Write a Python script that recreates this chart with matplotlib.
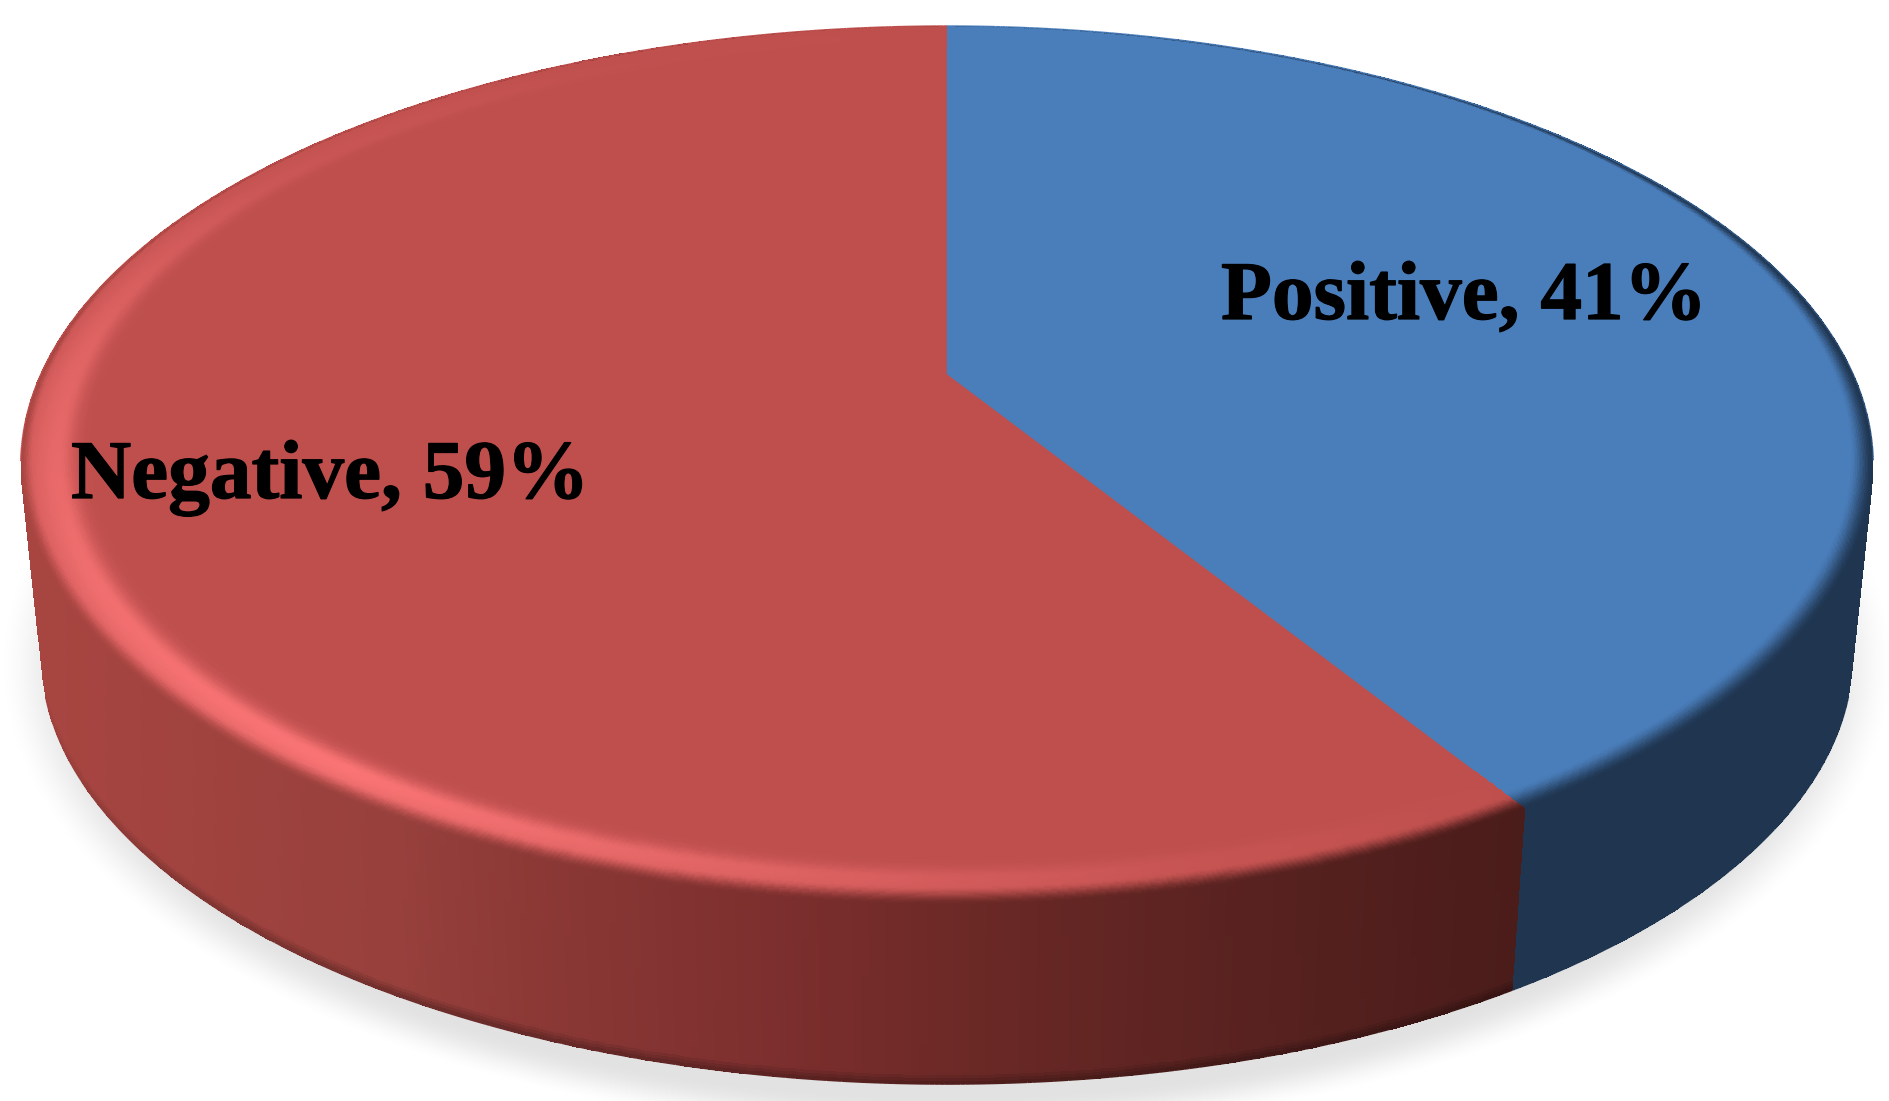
import numpy as np
import matplotlib.pyplot as plt
from matplotlib.colors import to_rgb
from matplotlib.collections import LineCollection
import matplotlib.patheffects as pe

# chart data (printed labels are rounded, the slice edge reads about 41.2)
labels = ["Positive", "Negative"]
values = [41.2, 58.8]
top_colors = ["#4A7EBB", "#BE4F4D"]

# label anchors (px)
label_x = [1221, 71]
label_y = [319, 498]

W, H = 1890, 1101

# perspective of the disc, in image pixels
cx, k = 947, 0.208
top_apex, top_A, top_B = 374, 420.4, 906
bot_apex, bot_scale = 565, 0.978


def project(theta, r=1.0, z=0.0):
    # theta clockwise from 12 o'clock, z 0=top rim 1=bottom rim
    u, v = r * np.sin(theta), r * np.cos(theta)
    d = 1 + k * v
    s = 1 + (bot_scale - 1) * z
    apex = top_apex + (bot_apex - top_apex) * z
    return cx + s * top_B * u / d, apex - s * top_A * v / d


def side_red(x):
    xs = [30, 400, 500, 800, 1000, 1250, 1520]
    rs = [0xA8, 0x97, 0x8E, 0x7A, 0x69, 0x58, 0x4A]
    gs = [0x45, 0x40, 0x3A, 0x2E, 0x28, 0x22, 0x1C]
    bs = [0x41, 0x3C, 0x37, 0x2D, 0x25, 0x20, 0x1A]
    return np.stack([np.interp(x, xs, c) / 255 for c in (rs, gs, bs)], axis=-1)


def side_color(theta, x, i):
    if i == 0:
        return np.broadcast_to(np.array(to_rgb("#1F3550")), x.shape + (3,))
    return side_red(x)


fig = plt.figure(figsize=(W / 100, H / 100), dpi=100)
ax = fig.add_axes([0, 0, 1, 1])

# soft shadow under the disc
gx, gy = np.meshgrid(np.arange(W) + 0.5, np.arange(H) + 0.5)
dist = np.sqrt(((gx - 947) / 952) ** 2 + ((gy - 665) / 472) ** 2)
t = np.clip((1 - dist) / 0.085, 0, 1)
shadow = np.zeros((H, W, 4))
shadow[..., 3] = 0.115 * t * t * (3 - 2 * t)
ax.imshow(shadow, extent=(0, W, H, 0), aspect="auto", zorder=0, interpolation="bilinear")

fractions = np.array(values) / sum(values)
edges = np.concatenate([[0], np.cumsum(fractions)]) * 2 * np.pi
rgb_top = [np.array(to_rgb(c)) for c in top_colors]

# side wall
for i in range(len(values)):
    th = np.linspace(edges[i], edges[i + 1], 500)
    zs = np.linspace(0, 1, 61)
    T, Z = np.meshgrid(th, zs)
    X, Y = project(T, 1.0, Z)
    tc = 0.5 * (T[:-1, :-1] + T[1:, 1:])
    zc = 0.5 * (Z[:-1, :-1] + Z[1:, 1:])
    xc = 0.25 * (X[:-1, :-1] + X[1:, :-1] + X[:-1, 1:] + X[1:, 1:])
    col = side_color(tc, xc, i).copy()
    if i == 1:
        low = np.clip(-np.cos(tc) * 1.6 - 0.4, 0, 1)
        col *= (1 - 0.3 * low * np.clip((zc - 0.94) / 0.06, 0, 1))[..., None]
    ax.pcolormesh(X, Y, col, shading="flat", zorder=1)

# flat top, wedge by wedge
theta_all = np.linspace(0, 2 * np.pi, 1500)
xt, yt = project(theta_all, 0.985)
ax.fill(xt, yt, color=rgb_top[1], lw=0.5, zorder=2)
th = np.linspace(edges[0], edges[1], 600)
xw, yw = project(th, 0.985)
xa, ya = project(0.0, 0.0)
ax.fill(np.r_[xa, xw], np.r_[ya, yw], color=rgb_top[0], lw=0.3, zorder=2)

# bevel ring around the rim
width = 0.072
hl_angle = [147, 165, 180, 200, 215, 240, 270, 300, 330, 360]
hl_power = [0.0, 0.12, 0.35, 0.75, 1.0, 0.85, 0.6, 0.22, 0.05, 0.0]
for i in range(len(values)):
    th = np.linspace(edges[i], edges[i + 1], 700)
    rs = np.linspace(1 - width, 1, 44)
    T, R = np.meshgrid(th, rs)
    X, Y = project(T, R)
    tc = 0.5 * (T[:-1, :-1] + T[1:, 1:])
    rc = 0.5 * (R[:-1, :-1] + R[1:, 1:])
    xc = 0.25 * (X[:-1, :-1] + X[1:, :-1] + X[:-1, 1:] + X[1:, 1:])
    s = (1 - rc) / width
    col = np.broadcast_to(rgb_top[i], tc.shape + (3,)).copy()
    if i == 1:
        power = np.interp(np.degrees(tc), hl_angle, hl_power)
        # stays lit out to the edge, the dark band below cuts it on the front
        sigma = np.where(s < 0.55, 0.55, 0.22)
        glow = power * np.exp(-(((s - 0.55) / sigma) ** 2))
        col += glow[..., None] * (np.array(to_rgb("#FA7475")) - col)
    front = np.clip(0.5 - 0.5 * np.cos(tc) - 0.1, 0, 1)
    if i == 0:
        band = 0.04 + 0.1 * np.abs(np.sin(tc)) + 0.42 * front
    else:
        band = 0.03 + 0.42 * front ** 1.5
    dark = np.clip(1 - s / band, 0, 1)
    dark = dark * dark * (3 - 2 * dark)
    col += dark[..., None] * (side_color(tc, xc, i) - col)
    ax.pcolormesh(X, Y, col, shading="flat", zorder=3)

# antialiased silhouette over the meshes
for i in range(len(values)):
    th = np.linspace(edges[i], edges[i + 1], 800)
    for z in (0.0, 1.0):
        x, y = project(th, 1.0, z)
        keep = np.cos(th) > -0.2 if z == 0 else np.cos(th) < -0.3
        pts = np.column_stack([x, y]).reshape(-1, 1, 2)
        mask = keep[:-1] & keep[1:]
        segs = np.concatenate([pts[:-1], pts[1:]], axis=1)[mask]
        tm = th[:-1][mask]
        xm = x[:-1][mask]
        if z == 0:
            seg_col = np.broadcast_to(rgb_top[i], xm.shape + (3,))
            if i == 0:
                mix = (np.sin(tm) ** 4)[..., None]
                seg_col = seg_col + mix * (np.array(to_rgb("#2F5580")) - seg_col)
        else:
            low = np.clip(-np.cos(tm) * 1.6 - 0.4, 0, 1)[..., None]
            seg_col = side_color(tm, xm, i) * (1 - 0.25 * low if i == 1 else 1)
        ax.add_collection(LineCollection(segs, colors=seg_col, linewidths=1.0, zorder=4))

# data labels
for name, val, lx, ly in zip(labels, values, label_x, label_y):
    ax.text(lx, ly, f"{name}, {val:.0f}%", family="Liberation Serif", fontweight="bold",
            fontsize=60, color="black", ha="left", va="baseline", zorder=5,
            path_effects=[pe.withStroke(linewidth=0.9, foreground="black")])

ax.set_xlim(0, W)
ax.set_ylim(H, 0)
ax.axis("off")
fig.savefig("out.png", dpi=100, facecolor="white")
